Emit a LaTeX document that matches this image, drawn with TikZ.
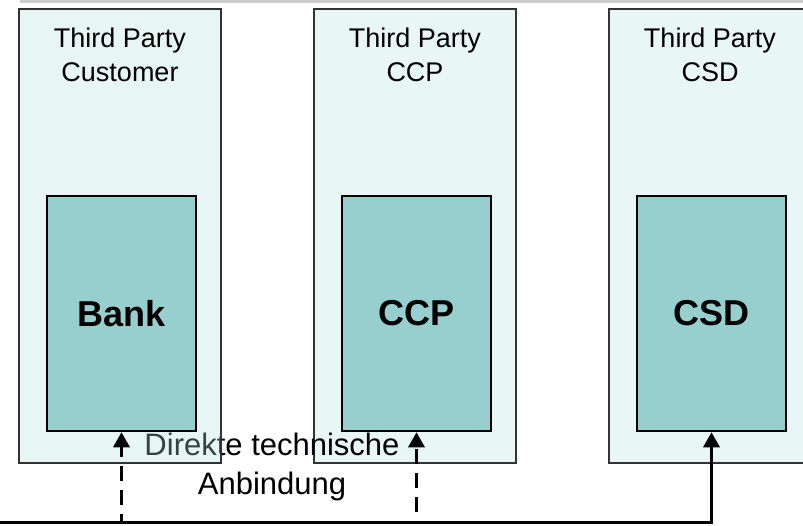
\documentclass[tikz,border=0pt]{standalone}
\usepackage{fontspec}
\setmainfont{Liberation Sans}
\usetikzlibrary{positioning}
\usetikzlibrary{arrows.meta}
\definecolor{partyfill}{RGB}{233,246,246}
\definecolor{partyveil}{RGB}{178,222,222}
\definecolor{instfill}{RGB}{150,207,206}
\tikzstyle{partynode} = [draw=black!80, line width=1.5pt, fill=partyfill, minimum width=202pt, minimum height=454pt, inner sep=0pt]
\tikzstyle{instnode} = [draw, line width=2.5pt, fill=instfill, minimum width=149pt, minimum height=235pt, font=\fontsize{36}{40}\selectfont\bfseries]
\tikzstyle{titlenode} = [anchor=north, inner sep=0pt, align=center, font=\fontsize{27}{34}\selectfont]
\tikzstyle{link} = [line width=3.2pt, -{Triangle[width=16pt,length=15pt]}]
\tikzstyle{linkdash} = [link, dash pattern=on 15pt off 9pt]

\begin{document}
\begin{tikzpicture}[x=1pt, y=-1pt]
  \useasboundingbox (0,0) rectangle (803,525);
  \fill[black!20] (20,0) rectangle (803,3);

  \node[partynode] (tp_ccp) at (415,236) {};
  \node[partynode] (tp_csd) at (710,236) {};
  \node[anchor=north, inner sep=0pt, align=center, font=\fontsize{31}{39}\selectfont] (direct) at (272,433) {Direkte technische\\Anbindung};
  % customer frame lies over the label
  \node[partynode, fill=partyveil, fill opacity=0.3] (tp_bank) at (120,236) {};

  \node[titlenode] (t_bank) at ([yshift=-19pt]tp_bank.north) {Third Party\\Customer};
  \node[titlenode] (t_ccp) at ([yshift=-19pt]tp_ccp.north) {Third Party\\CCP};
  \node[titlenode] (t_csd) at ([yshift=-19pt]tp_csd.north) {Third Party\\CSD};

  \node[instnode] (bank) at (121.5,313.5) {Bank};
  \node[instnode] (ccp) at (416.5,313.5) {CCP};
  \node[instnode] (csd) at (711.5,313.5) {CSD};

  \coordinate (feed) at (-5,522.5);
  \draw[link] (feed) -| (csd.south);
  \draw[linkdash] (feed) -| (bank.south);
  \draw[linkdash] (feed) -| (ccp.south);
\end{tikzpicture}
\end{document}
